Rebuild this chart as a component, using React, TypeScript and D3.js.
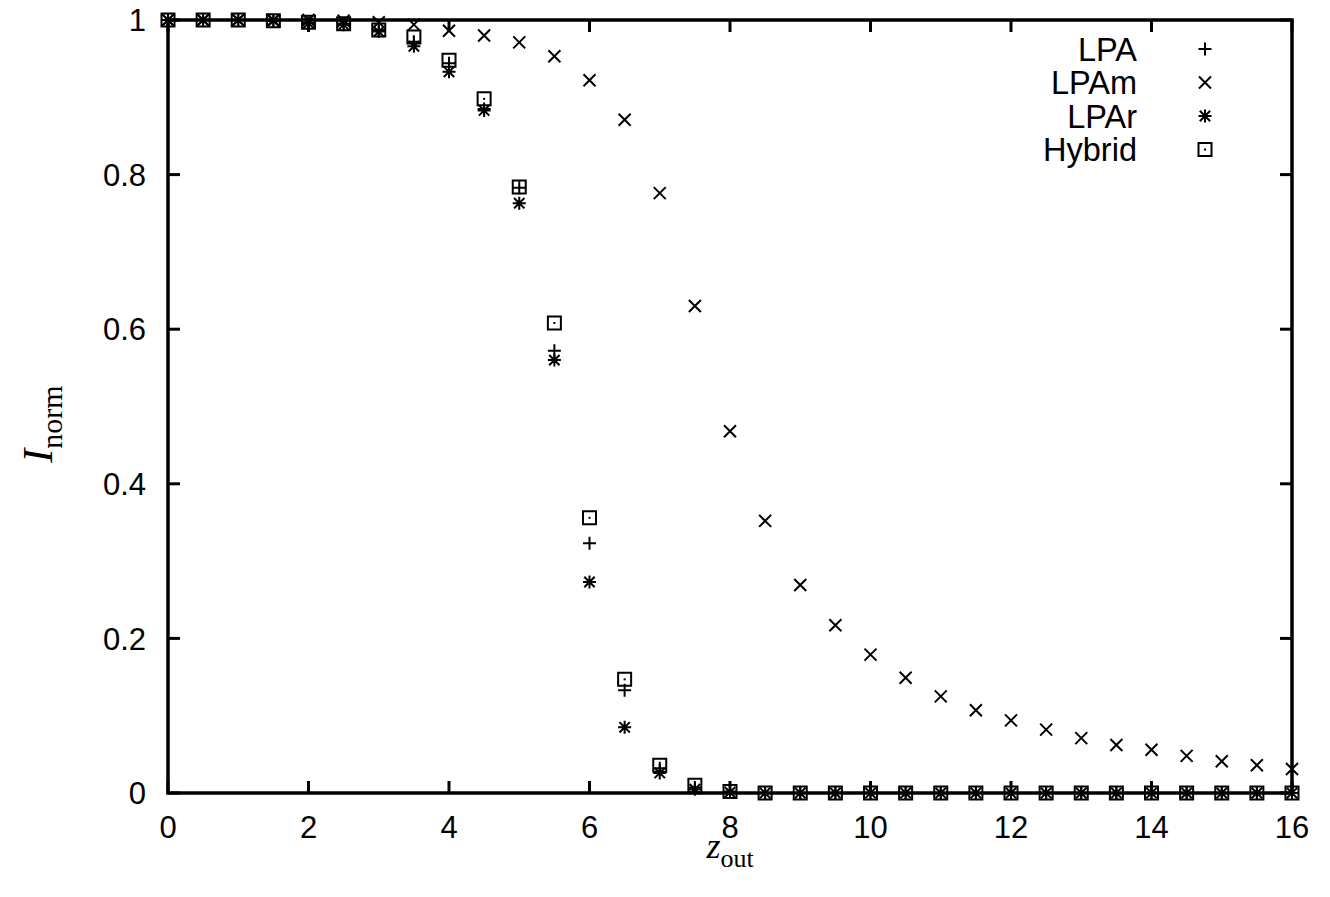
import React from "react";
import * as d3 from "d3";

const zOut = [0, 0.5, 1, 1.5, 2, 2.5, 3, 3.5, 4, 4.5, 5, 5.5, 6, 6.5, 7, 7.5, 8, 8.5, 9, 9.5, 10, 10.5, 11, 11.5, 12, 12.5, 13, 13.5, 14, 14.5, 15, 15.5, 16];

const lpa = [1, 1, 1, 0.999, 0.996, 0.995, 0.987, 0.972, 0.944, 0.885, 0.783, 0.572, 0.323, 0.133, 0.032, 0.007, 0.002, 0, 0, 0, 0, 0, 0, 0, 0, 0, 0, 0, 0, 0, 0, 0, 0];
const lpam = [1, 1, 1, 1, 1, 0.999, 0.997, 0.994, 0.986, 0.98, 0.971, 0.953, 0.922, 0.871, 0.776, 0.63, 0.468, 0.352, 0.269, 0.217, 0.179, 0.149, 0.125, 0.107, 0.094, 0.082, 0.071, 0.062, 0.056, 0.048, 0.041, 0.036, 0.031];
const lpar = [1, 1, 1, 0.999, 0.996, 0.994, 0.985, 0.966, 0.933, 0.883, 0.763, 0.56, 0.273, 0.085, 0.026, 0.005, 0.001, 0, 0, 0, 0, 0, 0, 0, 0, 0, 0, 0, 0, 0, 0, 0, 0];
const hybrid = [1, 1, 1, 0.999, 0.997, 0.995, 0.987, 0.978, 0.948, 0.898, 0.784, 0.608, 0.356, 0.147, 0.036, 0.01, 0.002, 0, 0, 0, 0, 0, 0, 0, 0, 0, 0, 0, 0, 0, 0, 0, 0];

const xTicks = [0, 2, 4, 6, 8, 10, 12, 14, 16];
const yTicks = [0, 0.2, 0.4, 0.6, 0.8, 1];

const seriesNames = ["LPA", "LPAm", "LPAr", "Hybrid"];
const seriesValues = [lpa, lpam, lpar, hybrid];

const W = 1330;
const H = 897;
const left = 168;
const right = 1292;
const top = 20;
const bottom = 793;

const sans = "'Liberation Sans', Arial, Helvetica, sans-serif";
const serif = "'Liberation Serif', 'Times New Roman', serif";

function markerPath(kind: string, s: number): string {
  const h = s / 2;
  if (kind === "LPA") return `M${-h},0H${h}M0,${-h}V${h}`;
  if (kind === "LPAm") return `M${-h},${-h}L${h},${h}M${-h},${h}L${h},${-h}`;
  if (kind === "LPAr")
    return `M${-h},0H${h}M0,${-h}V${h}M${-h * 0.8},${-h * 0.8}L${h * 0.8},${h * 0.8}M${-h * 0.8},${h * 0.8}L${h * 0.8},${-h * 0.8}`;
  return `M${-h},${-h}H${h}V${h}H${-h}Z`;
}

const Marker: React.FC<{ kind: string; x: number; y: number }> = ({ kind, x, y }) => {
  const size = kind === "Hybrid" ? 13 : kind === "LPAm" ? 12 : 13;
  return (
    <g transform={`translate(${x},${y})`}>
      <path d={markerPath(kind, size)} fill="none" stroke="#000" strokeWidth={2} />
      {kind === "Hybrid" && <rect x={-1} y={-1} width={2} height={2} fill="#000" />}
    </g>
  );
};

export default function App() {
  const x = d3.scaleLinear().domain([0, 16]).range([left, right]);
  const y = d3.scaleLinear().domain([0, 1]).range([bottom, top]);
  const tickLen = 12;

  return (
    <svg width={W} height={H} style={{ display: "block", margin: -8 }} viewBox={`0 0 ${W} ${H}`}>
      <rect width={W} height={H} fill="#fff" />
      {xTicks.map((t) => (
        <g key={`xt${t}`}>
          <line x1={x(t)} x2={x(t)} y1={bottom} y2={bottom - tickLen} stroke="#000" strokeWidth={3} />
          <line x1={x(t)} x2={x(t)} y1={top} y2={top + tickLen} stroke="#000" strokeWidth={3} />
          <text x={x(t)} y={838} textAnchor="middle" fontFamily={sans} fontSize={31}>
            {d3.format("d")(t)}
          </text>
        </g>
      ))}
      {yTicks.map((t) => (
        <g key={`yt${t}`}>
          <line x1={left} x2={left + tickLen} y1={y(t)} y2={y(t)} stroke="#000" strokeWidth={3} />
          <line x1={right} x2={right - tickLen} y1={y(t)} y2={y(t)} stroke="#000" strokeWidth={3} />
          <text x={146} y={y(t)} dy="0.36em" textAnchor="end" fontFamily={sans} fontSize={31}>
            {t === 0 || t === 1 ? String(t) : d3.format(".1f")(t)}
          </text>
        </g>
      ))}
      {seriesNames.map((name, si) => (
        <g key={name}>
          {seriesValues[si].map((v, i) => (
            <Marker key={i} kind={name} x={x(zOut[i])} y={y(v)} />
          ))}
        </g>
      ))}
      <rect x={left} y={top} width={right - left} height={bottom - top} fill="none" stroke="#000" strokeWidth={3.5} />
      {seriesNames.map((name, i) => (
        <g key={`lg${name}`}>
          <text x={1137} y={49 + i * 33.5} dy="0.36em" textAnchor="end" fontFamily={sans} fontSize={32.5}>
            {name}
          </text>
          <Marker kind={name} x={1205} y={49 + i * 33.5} />
        </g>
      ))}
      <text
        transform="translate(52,424) rotate(-90)"
        textAnchor="middle"
        fontFamily={serif}
        fontSize={42}
      >
        <tspan fontStyle="italic">I</tspan>
        <tspan fontSize={30} dy={10}>norm</tspan>
      </text>
      <text x={730} y={858} textAnchor="middle" fontFamily={serif} fontSize={36}>
        <tspan fontStyle="italic">z</tspan>
        <tspan fontSize={26} dy={9}>out</tspan>
      </text>
    </svg>
  );
}
